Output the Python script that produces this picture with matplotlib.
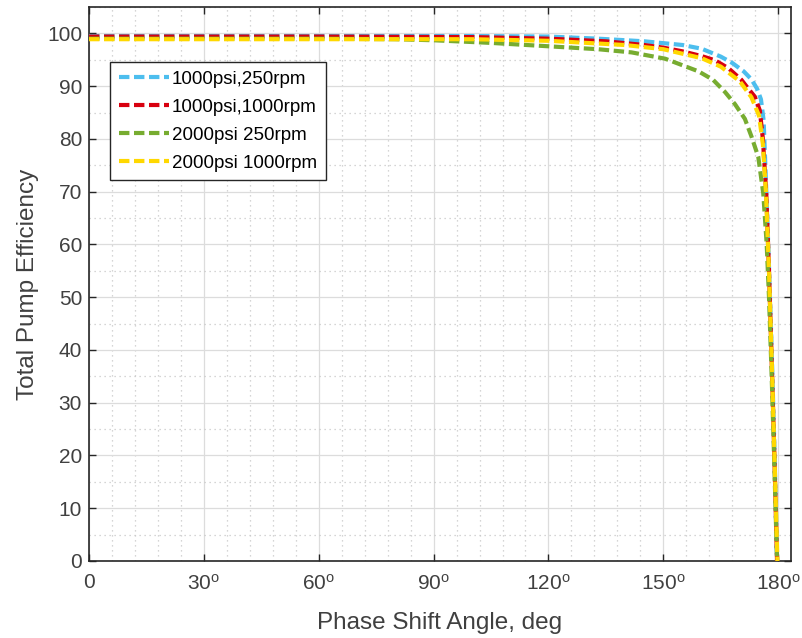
import numpy as np
import matplotlib
matplotlib.use("Agg")
import matplotlib.pyplot as plt
from matplotlib.ticker import MultipleLocator, FixedLocator

plt.rcParams['font.family'] = ['Liberation Sans', 'DejaVu Sans']
plt.rcParams['mathtext.fontset'] = 'custom'
plt.rcParams['mathtext.rm'] = 'Liberation Sans'
plt.rcParams['mathtext.it'] = 'Liberation Sans:italic'

# Efficiency curves (phase angle in degrees, efficiency in %)
ang_1000_250 = [0, 60, 100, 120, 133, 145, 155, 160, 165, 168, 171, 173, 174.5, 175.5,
                176.2, 176.8, 177.5, 178.3, 179.0, 179.7]
eff_1000_250 = [99.5, 99.5, 99.5, 99.4, 99.0, 98.5, 97.8, 97.1, 95.6, 94.4, 92.8, 91.3,
                89.5, 87.5, 83.5, 72, 58, 40, 22, 0]

ang_1000_1000 = [0, 60, 100, 120, 135, 145, 150, 155, 160, 163.5, 167, 170.4, 172, 173.9,
                 175.2, 176.0, 176.9, 177.6, 178.3, 179.0, 179.7]
eff_1000_1000 = [99.4, 99.4, 99.3, 99.0, 98.5, 97.8, 97.3, 96.6, 95.7, 94.9, 93.4, 91.2,
                 89.7, 88.0, 85.4, 80, 69.4, 55, 38, 20, 0]

ang_2000_250 = [0, 60, 80, 90, 105, 119, 133, 141.7, 150.5, 159.2, 163, 166.1, 168.7,
                171.3, 173, 174.8, 176.1, 177.0, 177.6, 178.3, 179.0, 179.7]
eff_2000_250 = [99.0, 99.0, 98.9, 98.7, 98.2, 97.6, 97.0, 96.4, 95.2, 92.8, 91.2, 88.9,
                86.6, 83.8, 80.5, 76.6, 69.7, 60, 50, 35, 18, 0]

ang_2000_1000 = [0, 60, 100, 120, 140, 150, 160, 165, 170, 173, 175, 176, 176.8, 177.6,
                 178.4, 179.1, 179.8]
eff_2000_1000 = [98.9, 98.9, 98.9, 98.6, 97.8, 97.0, 95.3, 93.7, 90.9, 87.9, 84.4, 79,
                 70, 55, 36, 18, 0]

labels = ['1000psi,250rpm', '1000psi,1000rpm', '2000psi 250rpm', '2000psi 1000rpm']
colors = ['#4DBEEE', '#D8000F', '#77AC30', '#FFD800']

x_ticks = [0, 30, 60, 90, 120, 150, 180]
x_ticklabels = ['0', r'$\mathregular{30^{o}}$', r'$\mathregular{60^{o}}$',
                r'$\mathregular{90^{o}}$', r'$\mathregular{120^{o}}$',
                r'$\mathregular{150^{o}}$', r'$\mathregular{180^{o}}$']
y_ticks = [0, 10, 20, 30, 40, 50, 60, 70, 80, 90, 100]

fig = plt.figure(figsize=(8.02, 6.38), dpi=100)
ax = fig.add_axes([0.111, 0.1207, 0.8753, 0.8683])

series = [(ang_1000_250, eff_1000_250), (ang_1000_1000, eff_1000_1000),
          (ang_2000_250, eff_2000_250), (ang_2000_1000, eff_2000_1000)]
for (a, e), lab, c in zip(series, labels, colors):
    ln, = ax.plot(a, e, color=c, lw=3.0, label=lab, zorder=3)
    ln.set_dashes((2.5, 1.1))

ax.set_xlim(0, 183.35)
ax.set_ylim(0, 105)
ax.xaxis.set_major_locator(FixedLocator(x_ticks))
ax.set_xticklabels(x_ticklabels)
ax.yaxis.set_major_locator(FixedLocator(y_ticks))
ax.xaxis.set_minor_locator(MultipleLocator(6))
ax.yaxis.set_minor_locator(MultipleLocator(5))

ax.grid(True, which='major', color='#dcdcdc', lw=0.9, ls='-', zorder=0)
ax.grid(True, which='minor', color='#c8c8c8', lw=0.9, ls=(0, (1, 3)), zorder=0)
ax.set_axisbelow(True)

ax.tick_params(which='major', direction='in', length=5, width=1.0, top=True, right=True,
               colors='#262626', labelcolor='#404040', labelsize=15)
ax.tick_params(axis='y', which='major', pad=5)
ax.tick_params(axis='x', which='major', pad=9)
ax.tick_params(which='minor', length=0, top=True, right=True)
for s in ax.spines.values():
    s.set_color('#262626')
    s.set_linewidth(1.2)

ax.set_xlabel('Phase Shift Angle, deg', fontsize=17.5, color='#404040', labelpad=13)
ax.set_ylabel('Total Pump Efficiency', fontsize=17.5, color='#404040', labelpad=6)

leg = ax.legend(loc='upper left', bbox_to_anchor=(0.030, 0.9007), fontsize=13.5,
                frameon=True, fancybox=False, edgecolor='#262626', framealpha=1,
                handlelength=2.7, handletextpad=0.15, borderpad=0.45, labelspacing=0.58,
                borderaxespad=0)
leg.get_frame().set_linewidth(1.0)

fig.savefig('out.png', dpi=100)
